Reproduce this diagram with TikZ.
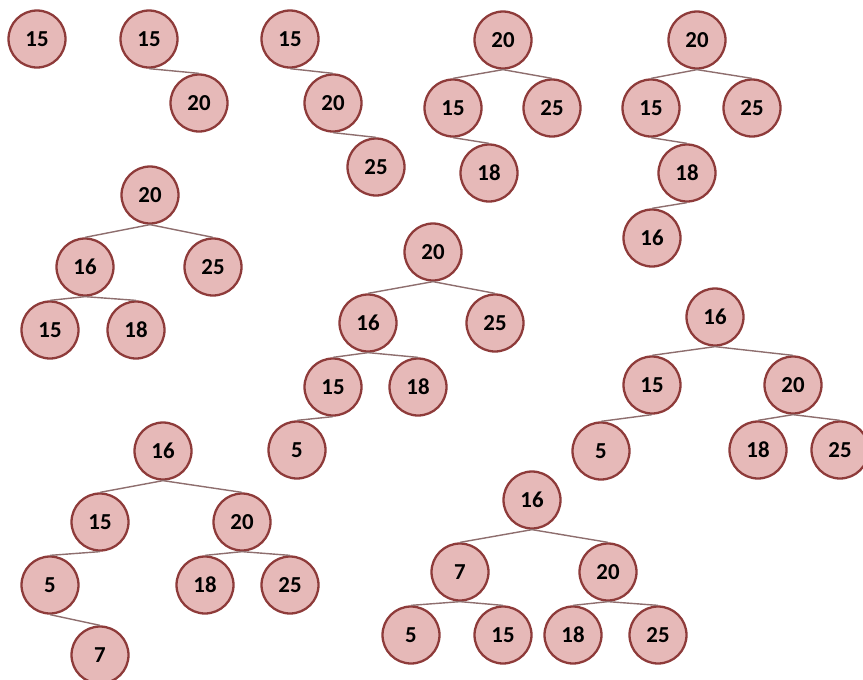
\documentclass[tikz,border=0pt]{standalone}
\usepackage{fontspec}
\setmainfont{Carlito}
\usepackage{xcolor}
\definecolor{cFill}{HTML}{E6B9B8}
\definecolor{cRim}{HTML}{8E3B3A}
\definecolor{cEdge}{HTML}{8E6E6E}
\usepackage{tikz}
\tikzset{
  node-key/.style={draw=cRim,line width=1.3pt,circle,fill=cFill,
    minimum size=1.14cm,inner sep=0pt,font=\fontsize{13}{15}\selectfont\bfseries},
  tree-edge/.style={draw=cEdge,line width=0.8pt},
}

\begin{document}
\begin{tikzpicture}[x=0.02cm,y=-0.02cm]
  \useasboundingbox (0,0) rectangle (863,680);
  % step 1
  \node[node-key] (a15) at (37,39) {15};
  % step 2
  \node[node-key] (b15) at (149,39) {15};
  \node[node-key] (b20) at (199,103) {20};
  \draw[tree-edge] (b15.south) -- (b20.north);
  % step 3
  \node[node-key] (c15) at (290,39) {15};
  \node[node-key] (c20) at (333,103) {20};
  \node[node-key] (c25) at (376,167) {25};
  \draw[tree-edge] (c15.south) -- (c20.north);
  \draw[tree-edge] (c20.south) -- (c25.north);
  % step 4
  \node[node-key] (d20) at (503,40) {20};
  \node[node-key] (d15) at (453,108) {15};
  \node[node-key] (d25) at (552,108) {25};
  \node[node-key] (d18) at (489,173) {18};
  \draw[tree-edge] (d20.south) -- (d15.north);
  \draw[tree-edge] (d20.south) -- (d25.north);
  \draw[tree-edge] (d15.south) -- (d18.north);
  % step 5
  \node[node-key] (e20) at (697,40) {20};
  \node[node-key] (e15) at (651,108) {15};
  \node[node-key] (e25) at (752,108) {25};
  \node[node-key] (e18) at (687,173) {18};
  \node[node-key] (e16) at (652,238) {16};
  \draw[tree-edge] (e20.south) -- (e15.north);
  \draw[tree-edge] (e20.south) -- (e25.north);
  \draw[tree-edge] (e15.south) -- (e18.north);
  \draw[tree-edge] (e18.south) -- (e16.north);
  % step 6
  \node[node-key] (f20) at (150,195) {20};
  \node[node-key] (f16) at (85,267) {16};
  \node[node-key] (f25) at (213,267) {25};
  \node[node-key] (f15) at (50,330) {15};
  \node[node-key] (f18) at (136,330) {18};
  \draw[tree-edge] (f20.south) -- (f16.north);
  \draw[tree-edge] (f20.south) -- (f25.north);
  \draw[tree-edge] (f16.south) -- (f15.north);
  \draw[tree-edge] (f16.south) -- (f18.north);
  % step 7
  \node[node-key] (g20) at (433,252) {20};
  \node[node-key] (g16) at (368,323) {16};
  \node[node-key] (g25) at (495,323) {25};
  \node[node-key] (g15) at (333,387) {15};
  \node[node-key] (g18) at (418,387) {18};
  \node[node-key] (g5) at (297,450) {5};
  \draw[tree-edge] (g20.south) -- (g16.north);
  \draw[tree-edge] (g20.south) -- (g25.north);
  \draw[tree-edge] (g16.south) -- (g15.north);
  \draw[tree-edge] (g16.south) -- (g18.north);
  \draw[tree-edge] (g15.south) -- (g5.north);
  % step 8
  \node[node-key] (h16) at (715,317) {16};
  \node[node-key] (h15) at (652,385) {15};
  \node[node-key] (h20) at (793,385) {20};
  \node[node-key] (h5) at (601,451) {5};
  \node[node-key] (h18) at (758,450) {18};
  \node[node-key] (h25) at (840,450) {25};
  \draw[tree-edge] (h16.south) -- (h15.north);
  \draw[tree-edge] (h16.south) -- (h20.north);
  \draw[tree-edge] (h15.south) -- (h5.north);
  \draw[tree-edge] (h20.south) -- (h18.north);
  \draw[tree-edge] (h20.south) -- (h25.north);
  % step 9
  \node[node-key] (i16) at (163,451) {16};
  \node[node-key] (i15) at (100,522) {15};
  \node[node-key] (i20) at (242,522) {20};
  \node[node-key] (i5) at (50,585) {5};
  \node[node-key] (i18) at (205,585) {18};
  \node[node-key] (i25) at (290,585) {25};
  \node[node-key] (i7) at (100,655) {7};
  \draw[tree-edge] (i16.south) -- (i15.north);
  \draw[tree-edge] (i16.south) -- (i20.north);
  \draw[tree-edge] (i15.south) -- (i5.north);
  \draw[tree-edge] (i20.south) -- (i18.north);
  \draw[tree-edge] (i20.south) -- (i25.north);
  \draw[tree-edge] (i5.south) -- (i7.north);
  % step 10
  \node[node-key] (j16) at (532,500) {16};
  \node[node-key] (j7) at (460,572) {7};
  \node[node-key] (j20) at (608,572) {20};
  \node[node-key] (j5) at (411,635) {5};
  \node[node-key] (j15) at (503,635) {15};
  \node[node-key] (j18) at (573,635) {18};
  \node[node-key] (j25) at (658,635) {25};
  \draw[tree-edge] (j16.south) -- (j7.north);
  \draw[tree-edge] (j16.south) -- (j20.north);
  \draw[tree-edge] (j7.south) -- (j5.north);
  \draw[tree-edge] (j7.south) -- (j15.north);
  \draw[tree-edge] (j20.south) -- (j18.north);
  \draw[tree-edge] (j20.south) -- (j25.north);
\end{tikzpicture}
\end{document}
